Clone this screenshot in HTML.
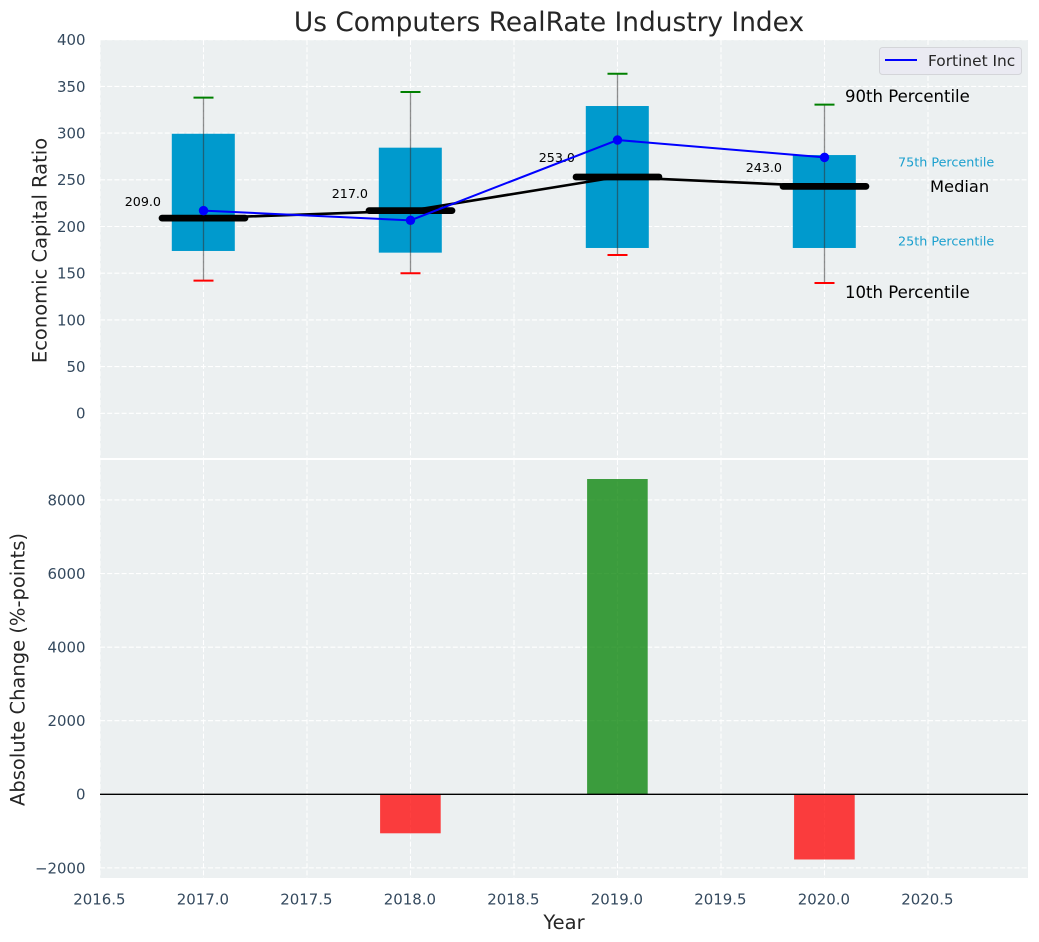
<!DOCTYPE html>
<html lang="en">
<head>
<meta charset="utf-8">
<title>Us Computers RealRate Industry Index</title>
<style>
html,body{margin:0;padding:0;background:#fff;}
svg{display:block;font-family:"DejaVu Sans","Liberation Sans",sans-serif;}
.tick{font-size:14.95px;fill:#34495e;}
.axt{font-size:19.5px;fill:#262626;}
</style>
</head>
<body>
<svg id="chart" width="1039" height="942" viewBox="0 0 1039 942" xmlns="http://www.w3.org/2000/svg">
  <rect x="100" y="40" width="928" height="418" fill="#ecf0f1"/>
  <rect x="100" y="460" width="928" height="418" fill="#ecf0f1"/>
  <g id="grid"></g>
  <g id="upper"></g>
  <g id="lower"></g>
  <g id="ticks"></g>
  <text x="549" y="31" text-anchor="middle" font-size="26.4" fill="#262626">Us Computers RealRate Industry Index</text>
  <text class="axt" transform="translate(46.5,250.5) rotate(-90)" text-anchor="middle">Economic Capital Ratio</text>
  <text class="axt" transform="translate(24.5,669.5) rotate(-90)" text-anchor="middle">Absolute Change (%-points)</text>
  <text class="axt" x="564" y="929" text-anchor="middle">Year</text>
  <g>
    <rect x="879.5" y="47.5" width="142" height="27" rx="3" fill="#eaeaf2" stroke="#d4d5d9" stroke-width="1"/>
    <line x1="885" y1="60" x2="917" y2="60" stroke="#0000ff" stroke-width="2"/>
    <text x="928" y="66" font-size="15.4" fill="#262626">Fortinet Inc</text>
  </g>
</svg>
<script>
const years = [2017, 2018, 2019, 2020];
const p90 = [338, 344, 363.5, 330.5];
const p75 = [299.3, 284.4, 329, 276.5];
const median = [209, 217, 253, 243];
const p25 = [173.8, 172, 177, 177];
const p10 = [142, 150, 169.5, 139.5];
const fortinet = [217, 206.6, 292.6, 274];
const changeYears = [2018, 2019, 2020];
const changes = [-1060, 8570, -1772];
const xTicks = ["2016.5", "2017.0", "2017.5", "2018.0", "2018.5", "2019.0", "2019.5", "2020.0", "2020.5"];
const upperTicks = ["0", "50", "100", "150", "200", "250", "300", "350", "400"];
const lowerTicks = ["-2000", "0", "2000", "4000", "6000", "8000"];

const NS = "http://www.w3.org/2000/svg";
function xs(v) { return 100 + (v - 2016.5) * 207; }
function yu(v) { return 413.3 - v * 0.9340; }
function yl(v) { return 794.3 - v * 0.03679; }
function mk(parent, tag, props, txt) {
  const el = document.createElementNS(NS, tag);
  for (const k in props) el.setAttribute(k, props[k]);
  if (txt !== undefined) el.textContent = txt;
  parent.appendChild(el);
  return el;
}
const grid = document.getElementById("grid");
const upper = document.getElementById("upper");
const lower = document.getElementById("lower");
const ticks = document.getElementById("ticks");
const dash = { stroke: "#ffffff", "stroke-width": 1.1, "stroke-dasharray": "5 2.2" };

xTicks.forEach(function (t) {
  const x = xs(parseFloat(t));
  const a = mk(grid, "line", Object.assign({ x1: x, x2: x, y1: 40, y2: 458 }, dash));
  
  
  const b = mk(grid, "line", Object.assign({ x1: x, x2: x, y1: 460, y2: 878 }, dash));
  
  
  const l = mk(ticks, "text", { class: "tick", x: x - 0.6, y: 904.3, "text-anchor": "middle" }, t);
  
  
});
upperTicks.forEach(function (t) {
  const y = yu(parseFloat(t));
  const a = mk(grid, "line", Object.assign({ x1: 100, x2: 1028, y1: y, y2: y }, dash));
  
  
  const l = mk(ticks, "text", { class: "tick", x: 85.5, y: y + 5.4, "text-anchor": "end" }, t);
  
  
});
lowerTicks.forEach(function (t) {
  const v = parseFloat(t);
  const y = yl(v);
  const a = mk(grid, "line", Object.assign({ x1: 100, x2: 1028, y1: y, y2: y }, dash));
  
  
  const l = mk(ticks, "text", { class: "tick", x: 85.5, y: y + 5.4, "text-anchor": "end" }, t.replace("-", "\u2212"));
  
  
});

years.forEach(function (yr, i) {
  const cx = xs(yr);
  const box = mk(upper, "rect", { x: cx - 31.7, y: yu(p75[i]), width: 63, height: yu(p25[i]) - yu(p75[i]), fill: "#009acd" });
  
  
});
const medianLine = mk(upper, "polyline", {
  points: years.map(function (yr, i) { return xs(yr) + "," + yu(median[i]); }).join(" "),
  fill: "none", stroke: "#000000", "stroke-width": 2.6
});


years.forEach(function (yr, i) {
  const cx = xs(yr);
  const w = mk(upper, "line", { x1: cx, x2: cx, y1: yu(p90[i]), y2: yu(p10[i]), stroke: "#333333", "stroke-opacity": 0.55, "stroke-width": 1.3 });
  
  
  const top = mk(upper, "line", { x1: cx - 10, x2: cx + 10, y1: yu(p90[i]), y2: yu(p90[i]), stroke: "#008000", "stroke-width": 2 });
  
  
  const bot = mk(upper, "line", { x1: cx - 10, x2: cx + 10, y1: yu(p10[i]), y2: yu(p10[i]), stroke: "#ff0000", "stroke-width": 2 });
  
  
  const m = mk(upper, "line", { x1: cx - 41.5, x2: cx + 41.5, y1: yu(median[i]), y2: yu(median[i]), stroke: "#000000", "stroke-width": 6.7, "stroke-linecap": "round" });
  
  
  const lab = mk(upper, "text", { x: cx - 78.8, y: yu(median[i] * 1.0625), "font-size": 12.7, fill: "#000000" }, median[i].toFixed(1));
  
  
});
const blue = mk(upper, "polyline", {
  points: years.map(function (yr, i) { return xs(yr) + "," + yu(fortinet[i]); }).join(" "),
  fill: "none", stroke: "#0000ff", "stroke-width": 2
});


years.forEach(function (yr, i) {
  const d = mk(upper, "circle", { cx: xs(yr), cy: yu(fortinet[i]), r: 4.7, fill: "#0000ff" });
  
  
});

const n = years.length - 1;
const lx = xs(years[n]);
const t90 = mk(upper, "text", { x: lx + 20.5, y: yu(p90[n]) - 2.5, "font-size": 16.55, fill: "#000000" }, "90th Percentile");


const t10 = mk(upper, "text", { x: lx + 20.5, y: yu(p10[n]) + 15, "font-size": 16.55, fill: "#000000" }, "10th Percentile");


const t75 = mk(upper, "text", { x: lx + 73.5, y: yu(p75[n]) + 11.5, "font-size": 12.75, fill: "#1a9fce" }, "75th Percentile");


const t25 = mk(upper, "text", { x: lx + 73.5, y: yu(p25[n]) - 2.5, "font-size": 12.75, fill: "#1a9fce" }, "25th Percentile");


const tm = mk(upper, "text", { x: lx + 105.5, y: yu(median[n]) + 5.5, "font-size": 16.3, fill: "#000000" }, "Median");



changeYears.forEach(function (yr, i) {
  const v = changes[i];
  const y0 = yl(Math.max(v, 0));
  const y1 = yl(Math.min(v, 0));
  const bar = mk(lower, "rect", { x: xs(yr) - 30.4, y: y0, width: 60.6, height: y1 - y0, fill: v >= 0 ? "#008000" : "#ff0000", "fill-opacity": 0.75 });
  
  
});
const zero = mk(lower, "line", { x1: 100, x2: 1028, y1: yl(0), y2: yl(0), stroke: "#000000", "stroke-width": 1.4 });


</script>
</body>
</html>
